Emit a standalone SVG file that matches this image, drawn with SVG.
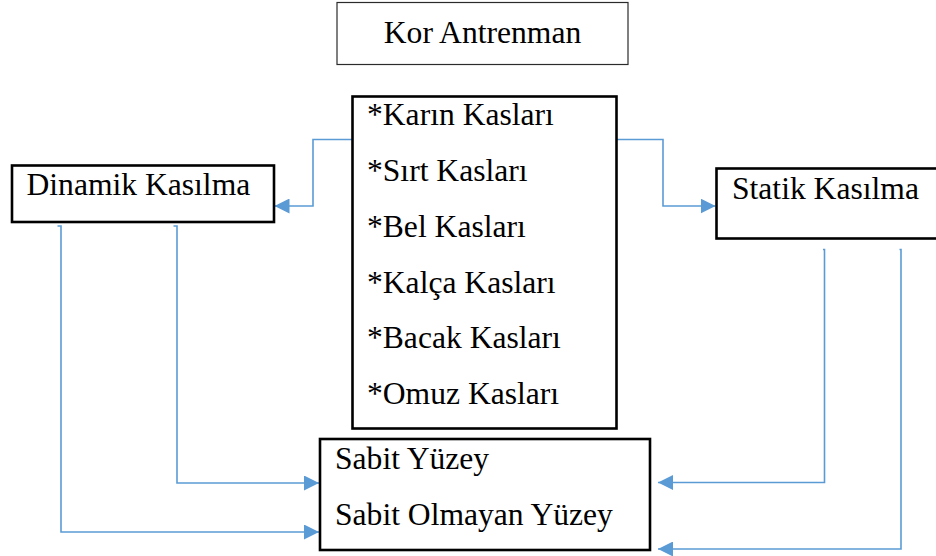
<svg xmlns="http://www.w3.org/2000/svg" width="936" height="556" viewBox="0 0 936 556">
<style>
.box{fill:#fff;stroke:#000;stroke-width:2.6}
.thin{fill:#fff;stroke:#2b2b2b;stroke-width:1.2}
.t{font-family:"Liberation Serif","Times New Roman",serif;font-size:31.6px;fill:#000}
.c{fill:none;stroke:#5B9BD5;stroke-width:1.6}
</style>
<defs>
<marker id="ah" viewBox="0 0 15 15" markerWidth="15" markerHeight="15" refX="15" refY="7.5" orient="auto" markerUnits="userSpaceOnUse">
<path d="M0,0 L15,7.5 L0,15 z" fill="#5B9BD5"/>
</marker>
</defs>
<rect width="936" height="556" fill="#fff"/>
<g id="connectors">
<path class="c" d="M352,139.5 H313 V206 H274.5" marker-end="url(#ah)"/>
<path class="c" d="M612,139.5 H663 V206 H715.5" marker-end="url(#ah)"/>
<path class="c" d="M57.5,226 H61 V532 H319" marker-end="url(#ah)"/>
<path class="c" d="M173.5,226 H177 V483 H319" marker-end="url(#ah)"/>
<path class="c" d="M823,249.5 H824.5 V482.5 H658" marker-end="url(#ah)"/>
<path class="c" d="M899.5,249.5 H901 V549 H658" marker-end="url(#ah)"/>
</g>
<g id="kor-antrenman">
<rect class="thin" x="337" y="2.5" width="291" height="62"/>
<text class="t" x="482.5" y="42.5" text-anchor="middle">Kor Antrenman</text>
</g>
<g id="kaslar">
<rect class="box" x="352.5" y="96.5" width="264" height="332"/>
<text class="t" x="367" y="125">*Karın Kasları</text>
<text class="t" x="367" y="181">*Sırt Kasları</text>
<text class="t" x="367" y="236.5">*Bel Kasları</text>
<text class="t" x="367" y="292.5">*Kalça Kasları</text>
<text class="t" x="367" y="348">*Bacak Kasları</text>
<text class="t" x="367" y="403.5">*Omuz Kasları</text>
</g>
<g id="dinamik-kasilma">
<rect class="box" x="12" y="165.5" width="262" height="56.5"/>
<text class="t" x="26.5" y="194.5">Dinamik Kasılma</text>
</g>
<g id="statik-kasilma">
<rect class="box" x="716.5" y="168.5" width="226" height="70"/>
<text class="t" x="732" y="198.5">Statik Kasılma</text>
</g>
<g id="yuzey">
<rect class="box" x="320" y="439" width="330" height="111"/>
<text class="t" x="335" y="469">Sabit Yüzey</text>
<text class="t" x="335" y="524.5">Sabit Olmayan Yüzey</text>
</g>
</svg>
